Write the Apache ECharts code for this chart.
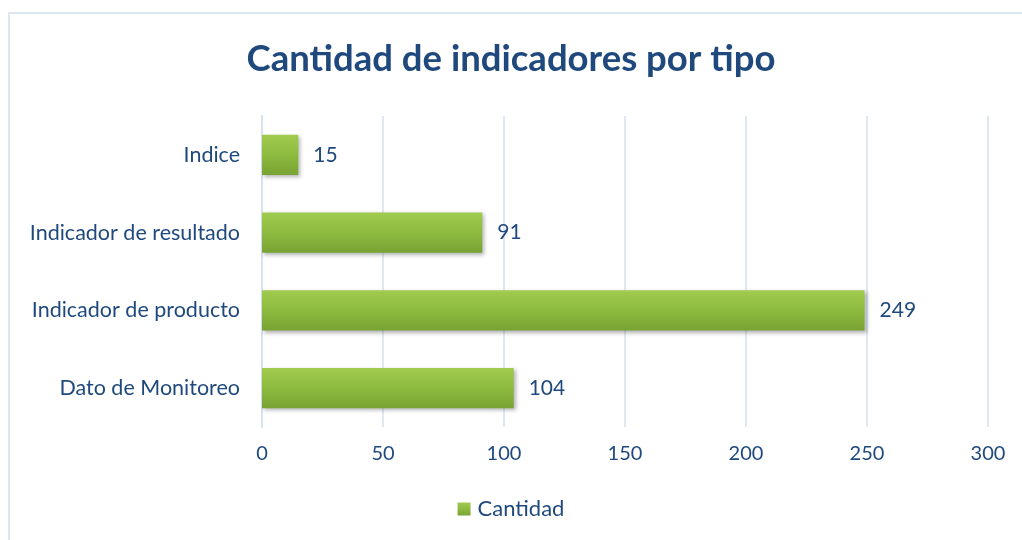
<!DOCTYPE html>
<html>
<head>
<meta charset="utf-8">
<script src="https://cdn.jsdelivr.net/npm/echarts@6/dist/echarts.min.js"></script>
<style>
  html, body { margin: 0; padding: 0; background: #fff; }
  #wrap { position: relative; width: 1022px; height: 540px; }
  #frame { position: absolute; left: 8px; top: 12px; right: 0; bottom: 0;
           border-top: 2px solid #DCE7F3; border-left: 2px solid #DCE7F3; }
  #chart { position: absolute; left: 0; top: 0; width: 1022px; height: 540px; }
</style>
</head>
<body>
<div id="wrap">
  <div id="frame"></div>
  <div id="chart"></div>
</div>
<script>
// datos
const categories = ['Dato de Monitoreo', 'Indicador de producto', 'Indicador de resultado', 'Indice'];
const cantidad = [104, 249, 91, 15];
const xTicks = [0, 50, 100, 150, 200, 250, 300];

const textColor = '#1F497D';
const font = 'Lato, "Open Sans", sans-serif';

const chart = echarts.init(document.getElementById('chart'), null, { renderer: 'canvas' });

chart.setOption({
  backgroundColor: 'transparent',
  animation: false,
  title: {
    text: 'Cantidad de indicadores por tipo',
    left: 'center',
    top: 36,
    textStyle: { color: textColor, fontSize: 36.5, fontWeight: 'bold', fontFamily: font }
  },
  legend: {
    bottom: 15,
    left: 'center',
    itemWidth: 13,
    itemHeight: 13,
    icon: 'rect',
    textStyle: { color: textColor, fontSize: 22, fontFamily: font, padding: [0, 0, 0, 2] },
    data: ['Cantidad']
  },
  grid: { left: 262, right: 34, top: 116, bottom: 113 },
  xAxis: {
    type: 'value',
    min: xTicks[0],
    max: xTicks[xTicks.length - 1],
    interval: 50,
    axisLine: { show: false },
    axisTick: { show: false },
    axisLabel: { color: textColor, fontSize: 20, fontFamily: font, margin: 17 },
    splitLine: { lineStyle: { color: '#D5E2F0', width: 1.5 } }
  },
  yAxis: {
    type: 'category',
    data: categories,
    axisLine: { show: true, lineStyle: { color: '#D5E2F0', width: 2 } },
    axisTick: { show: false },
    axisLabel: { color: textColor, fontSize: 21.5, fontFamily: font, margin: 22 }
  },
  series: [{
    name: 'Cantidad',
    type: 'bar',
    data: cantidad,
    barWidth: '52%',
    itemStyle: {
      color: new echarts.graphic.LinearGradient(0, 0, 0, 1, [
        { offset: 0, color: '#A0CB4E' },
        { offset: 0.5, color: '#8DBB40' },
        { offset: 1, color: '#78A232' }
      ]),
      shadowColor: 'rgba(0,0,0,0.3)',
      shadowBlur: 4,
      shadowOffsetX: 2,
      shadowOffsetY: 2
    },
    label: {
      show: true,
      position: 'right',
      distance: 15,
      color: textColor,
      fontSize: 21,
      fontFamily: font
    }
  }]
});
</script>
</body>
</html>
